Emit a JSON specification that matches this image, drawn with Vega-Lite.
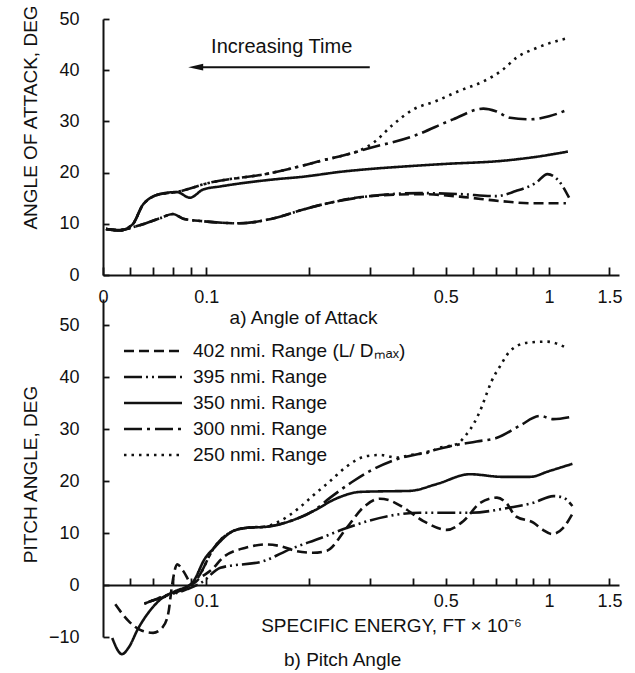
{
  "$schema": "https://vega.github.io/schema/vega-lite/v6.json",
  "background": "white",
  "padding": {"left": 20, "top": 4, "right": 5, "bottom": 2},
  "config": {
    "view": {"stroke": null},
    "font": "Liberation Sans",
    "axis": {
      "domainColor": "#111", "domainWidth": 2, "tickColor": "#111", "tickWidth": 1.8,
      "labelColor": "#111", "titleColor": "#111", "labelFontSize": 18, "titleFontSize": 19,
      "titleFontWeight": "normal", "grid": false, "labelFont": "Liberation Sans", "titleFont": "Liberation Sans",
      "labelOverlap": false, "labelFlush": false
    },
    "title": {"font": "Liberation Sans", "fontSize": 19, "fontWeight": "normal", "color": "#111"}
  },
  "datasets": {
    "aoa": [
      {"range": "350", "energy": 0.051, "angle": 9.0}, {"range": "350", "energy": 0.056, "angle": 8.7},
      {"range": "350", "energy": 0.061, "angle": 9.9}, {"range": "350", "energy": 0.0655, "angle": 13.8},
      {"range": "350", "energy": 0.0733, "angle": 15.8}, {"range": "350", "energy": 0.082, "angle": 16.2},
      {"range": "350", "energy": 0.0897, "angle": 15.1}, {"range": "350", "energy": 0.098, "angle": 16.7},
      {"range": "350", "energy": 0.11, "angle": 17.3}, {"range": "350", "energy": 0.154, "angle": 18.6},
      {"range": "350", "energy": 0.192, "angle": 19.2}, {"range": "350", "energy": 0.25, "angle": 20.2},
      {"range": "350", "energy": 0.3, "angle": 20.7}, {"range": "350", "energy": 0.4, "angle": 21.3},
      {"range": "350", "energy": 0.5, "angle": 21.7}, {"range": "350", "energy": 0.73, "angle": 22.3},
      {"range": "350", "energy": 0.9, "angle": 23.0}, {"range": "350", "energy": 1.135, "angle": 24.1},

      {"range": "300", "energy": 0.051, "angle": 9.0}, {"range": "300", "energy": 0.056, "angle": 8.7},
      {"range": "300", "energy": 0.061, "angle": 9.9}, {"range": "300", "energy": 0.0655, "angle": 13.8},
      {"range": "300", "energy": 0.0733, "angle": 15.8}, {"range": "300", "energy": 0.082, "angle": 16.2},
      {"range": "300", "energy": 0.0876, "angle": 16.7}, {"range": "300", "energy": 0.098, "angle": 17.7},
      {"range": "300", "energy": 0.154, "angle": 19.9}, {"range": "300", "energy": 0.192, "angle": 21.4},
      {"range": "300", "energy": 0.219, "angle": 22.4}, {"range": "300", "energy": 0.246, "angle": 23.2},
      {"range": "300", "energy": 0.3, "angle": 24.8}, {"range": "300", "energy": 0.401, "angle": 27.1},
      {"range": "300", "energy": 0.525, "angle": 30.4}, {"range": "300", "energy": 0.643, "angle": 32.5},
      {"range": "300", "energy": 0.7, "angle": 32.0}, {"range": "300", "energy": 0.77, "angle": 30.7},
      {"range": "300", "energy": 0.88, "angle": 30.4}, {"range": "300", "energy": 1.0, "angle": 31.0},
      {"range": "300", "energy": 1.135, "angle": 32.3},

      {"range": "250", "energy": 0.051, "angle": 9.0}, {"range": "250", "energy": 0.056, "angle": 8.7},
      {"range": "250", "energy": 0.061, "angle": 9.9}, {"range": "250", "energy": 0.0655, "angle": 13.8},
      {"range": "250", "energy": 0.0733, "angle": 15.8}, {"range": "250", "energy": 0.082, "angle": 16.2},
      {"range": "250", "energy": 0.0876, "angle": 16.7}, {"range": "250", "energy": 0.098, "angle": 17.7},
      {"range": "250", "energy": 0.154, "angle": 19.9}, {"range": "250", "energy": 0.192, "angle": 21.4},
      {"range": "250", "energy": 0.219, "angle": 22.4}, {"range": "250", "energy": 0.246, "angle": 23.2},
      {"range": "250", "energy": 0.28, "angle": 24.3}, {"range": "250", "energy": 0.307, "angle": 25.8},
      {"range": "250", "energy": 0.351, "angle": 29.4}, {"range": "250", "energy": 0.401, "angle": 32.3},
      {"range": "250", "energy": 0.469, "angle": 34.0}, {"range": "250", "energy": 0.549, "angle": 36.0},
      {"range": "250", "energy": 0.643, "angle": 37.8}, {"range": "250", "energy": 0.733, "angle": 40.1},
      {"range": "250", "energy": 0.802, "angle": 42.4}, {"range": "250", "energy": 0.916, "angle": 44.3},
      {"range": "250", "energy": 1.135, "angle": 46.3},

      {"range": "402", "energy": 0.051, "angle": 9.0}, {"range": "402", "energy": 0.056, "angle": 8.8},
      {"range": "402", "energy": 0.0625, "angle": 9.5}, {"range": "402", "energy": 0.0734, "angle": 11.1},
      {"range": "402", "energy": 0.08, "angle": 11.9}, {"range": "402", "energy": 0.0857, "angle": 11.0},
      {"range": "402", "energy": 0.098, "angle": 10.5}, {"range": "402", "energy": 0.125, "angle": 10.1},
      {"range": "402", "energy": 0.16, "angle": 11.2}, {"range": "402", "energy": 0.192, "angle": 12.8},
      {"range": "402", "energy": 0.219, "angle": 13.8}, {"range": "402", "energy": 0.3, "angle": 15.4},
      {"range": "402", "energy": 0.42, "angle": 15.8}, {"range": "402", "energy": 0.55, "angle": 15.3},
      {"range": "402", "energy": 0.73, "angle": 14.4}, {"range": "402", "energy": 0.9, "angle": 14.0},
      {"range": "402", "energy": 1.12, "angle": 14.0},

      {"range": "395", "energy": 0.051, "angle": 9.0}, {"range": "395", "energy": 0.056, "angle": 8.8},
      {"range": "395", "energy": 0.0625, "angle": 9.5}, {"range": "395", "energy": 0.0734, "angle": 11.1},
      {"range": "395", "energy": 0.08, "angle": 11.9}, {"range": "395", "energy": 0.0857, "angle": 11.0},
      {"range": "395", "energy": 0.098, "angle": 10.5}, {"range": "395", "energy": 0.125, "angle": 10.1},
      {"range": "395", "energy": 0.16, "angle": 11.2}, {"range": "395", "energy": 0.192, "angle": 12.8},
      {"range": "395", "energy": 0.219, "angle": 13.8}, {"range": "395", "energy": 0.3, "angle": 15.4},
      {"range": "395", "energy": 0.42, "angle": 16.0}, {"range": "395", "energy": 0.55, "angle": 15.8},
      {"range": "395", "energy": 0.7, "angle": 15.4}, {"range": "395", "energy": 0.8, "angle": 16.4},
      {"range": "395", "energy": 0.916, "angle": 18.0}, {"range": "395", "energy": 0.99, "angle": 19.7},
      {"range": "395", "energy": 1.07, "angle": 18.3}, {"range": "395", "energy": 1.144, "angle": 15.1}
    ],
    "pitch": [
      {"range": "350", "energy": 0.0532, "angle": -10.2}, {"range": "350", "energy": 0.0568, "angle": -13.3},
      {"range": "350", "energy": 0.0593, "angle": -12.1}, {"range": "350", "energy": 0.0634, "angle": -8.3},
      {"range": "350", "energy": 0.0696, "angle": -4.4}, {"range": "350", "energy": 0.0744, "angle": -2.5},
      {"range": "350", "energy": 0.0812, "angle": -1.2}, {"range": "350", "energy": 0.091, "angle": 0.4},
      {"range": "350", "energy": 0.0994, "angle": 5.2}, {"range": "350", "energy": 0.105, "angle": 7.0},
      {"range": "350", "energy": 0.12, "angle": 10.4}, {"range": "350", "energy": 0.1317, "angle": 11.0},
      {"range": "350", "energy": 0.15, "angle": 11.2}, {"range": "350", "energy": 0.176, "angle": 12.3},
      {"range": "350", "energy": 0.205, "angle": 14.2}, {"range": "350", "energy": 0.241, "angle": 16.7},
      {"range": "350", "energy": 0.281, "angle": 17.9}, {"range": "350", "energy": 0.32, "angle": 18.0},
      {"range": "350", "energy": 0.393, "angle": 18.1}, {"range": "350", "energy": 0.47, "angle": 19.4},
      {"range": "350", "energy": 0.588, "angle": 21.3}, {"range": "350", "energy": 0.73, "angle": 20.8},
      {"range": "350", "energy": 0.88, "angle": 20.8}, {"range": "350", "energy": 1.0, "angle": 21.9},
      {"range": "350", "energy": 1.17, "angle": 23.3},

      {"range": "300", "energy": 0.066, "angle": -3.6}, {"range": "300", "energy": 0.075, "angle": -2.2},
      {"range": "300", "energy": 0.085, "angle": -0.9}, {"range": "300", "energy": 0.095, "angle": 1.6},
      {"range": "300", "energy": 0.105, "angle": 7.0}, {"range": "300", "energy": 0.12, "angle": 10.4},
      {"range": "300", "energy": 0.1317, "angle": 11.0}, {"range": "300", "energy": 0.15, "angle": 11.2},
      {"range": "300", "energy": 0.176, "angle": 12.3}, {"range": "300", "energy": 0.205, "angle": 14.2},
      {"range": "300", "energy": 0.23, "angle": 16.8}, {"range": "300", "energy": 0.269, "angle": 20.0},
      {"range": "300", "energy": 0.3, "angle": 21.9}, {"range": "300", "energy": 0.36, "angle": 24.2},
      {"range": "300", "energy": 0.43, "angle": 25.4}, {"range": "300", "energy": 0.515, "angle": 26.7},
      {"range": "300", "energy": 0.615, "angle": 27.6}, {"range": "300", "energy": 0.705, "angle": 28.3},
      {"range": "300", "energy": 0.82, "angle": 30.6}, {"range": "300", "energy": 0.94, "angle": 32.5},
      {"range": "300", "energy": 1.03, "angle": 31.9}, {"range": "300", "energy": 1.15, "angle": 32.3},

      {"range": "250", "energy": 0.066, "angle": -3.6}, {"range": "250", "energy": 0.075, "angle": -2.2},
      {"range": "250", "energy": 0.085, "angle": -0.9}, {"range": "250", "energy": 0.095, "angle": 1.6},
      {"range": "250", "energy": 0.105, "angle": 7.0}, {"range": "250", "energy": 0.12, "angle": 10.4},
      {"range": "250", "energy": 0.1317, "angle": 11.0}, {"range": "250", "energy": 0.15, "angle": 11.3},
      {"range": "250", "energy": 0.164, "angle": 12.3}, {"range": "250", "energy": 0.188, "angle": 15.0},
      {"range": "250", "energy": 0.205, "angle": 17.2}, {"range": "250", "energy": 0.23, "angle": 20.0},
      {"range": "250", "energy": 0.257, "angle": 22.8}, {"range": "250", "energy": 0.294, "angle": 24.8},
      {"range": "250", "energy": 0.322, "angle": 25.0}, {"range": "250", "energy": 0.36, "angle": 24.5},
      {"range": "250", "energy": 0.402, "angle": 25.1}, {"range": "250", "energy": 0.44, "angle": 25.4},
      {"range": "250", "energy": 0.48, "angle": 26.4}, {"range": "250", "energy": 0.538, "angle": 27.1},
      {"range": "250", "energy": 0.575, "angle": 29.0}, {"range": "250", "energy": 0.602, "angle": 30.9},
      {"range": "250", "energy": 0.635, "angle": 34.1}, {"range": "250", "energy": 0.657, "angle": 36.7},
      {"range": "250", "energy": 0.68, "angle": 39.2}, {"range": "250", "energy": 0.72, "angle": 42.1},
      {"range": "250", "energy": 0.77, "angle": 45.0}, {"range": "250", "energy": 0.865, "angle": 46.6},
      {"range": "250", "energy": 0.985, "angle": 46.8}, {"range": "250", "energy": 1.14, "angle": 45.4},

      {"range": "402", "energy": 0.0543, "angle": -3.7}, {"range": "402", "energy": 0.0593, "angle": -6.9},
      {"range": "402", "energy": 0.065, "angle": -8.8}, {"range": "402", "energy": 0.07, "angle": -9.2},
      {"range": "402", "energy": 0.0745, "angle": -8.2}, {"range": "402", "energy": 0.0775, "angle": -5.5},
      {"range": "402", "energy": 0.0796, "angle": 0.2}, {"range": "402", "energy": 0.0823, "angle": 4.0},
      {"range": "402", "energy": 0.0857, "angle": 2.7}, {"range": "402", "energy": 0.091, "angle": 0.2},
      {"range": "402", "energy": 0.096, "angle": 1.4}, {"range": "402", "energy": 0.104, "angle": 3.0},
      {"range": "402", "energy": 0.112, "angle": 5.3}, {"range": "402", "energy": 0.131, "angle": 7.2},
      {"range": "402", "energy": 0.15, "angle": 7.8}, {"range": "402", "energy": 0.164, "angle": 7.5},
      {"range": "402", "energy": 0.184, "angle": 6.5}, {"range": "402", "energy": 0.205, "angle": 6.2},
      {"range": "402", "energy": 0.225, "angle": 6.6}, {"range": "402", "energy": 0.257, "angle": 11.0},
      {"range": "402", "energy": 0.287, "angle": 14.9}, {"range": "402", "energy": 0.321, "angle": 16.6},
      {"range": "402", "energy": 0.345, "angle": 16.2}, {"range": "402", "energy": 0.376, "angle": 14.9},
      {"range": "402", "energy": 0.43, "angle": 12.3}, {"range": "402", "energy": 0.503, "angle": 10.6},
      {"range": "402", "energy": 0.563, "angle": 12.3}, {"range": "402", "energy": 0.63, "angle": 15.8},
      {"range": "402", "energy": 0.705, "angle": 16.8}, {"range": "402", "energy": 0.75, "angle": 15.8},
      {"range": "402", "energy": 0.8, "angle": 13.2}, {"range": "402", "energy": 0.9, "angle": 12.0},
      {"range": "402", "energy": 0.96, "angle": 10.6}, {"range": "402", "energy": 1.02, "angle": 9.8},
      {"range": "402", "energy": 1.1, "angle": 11.0}, {"range": "402", "energy": 1.17, "angle": 13.7},

      {"range": "395", "energy": 0.068, "angle": -3.2}, {"range": "395", "energy": 0.078, "angle": -2.0},
      {"range": "395", "energy": 0.088, "angle": -0.8}, {"range": "395", "energy": 0.097, "angle": 0.5},
      {"range": "395", "energy": 0.11, "angle": 3.3}, {"range": "395", "energy": 0.147, "angle": 4.6},
      {"range": "395", "energy": 0.176, "angle": 6.9}, {"range": "395", "energy": 0.215, "angle": 9.0},
      {"range": "395", "energy": 0.258, "angle": 11.0}, {"range": "395", "energy": 0.3, "angle": 12.4},
      {"range": "395", "energy": 0.42, "angle": 13.9}, {"range": "395", "energy": 0.588, "angle": 13.9},
      {"range": "395", "energy": 0.77, "angle": 14.9}, {"range": "395", "energy": 0.9, "angle": 15.8},
      {"range": "395", "energy": 1.03, "angle": 17.1}, {"range": "395", "energy": 1.1, "angle": 16.8},
      {"range": "395", "energy": 1.17, "angle": 15.2}
    ],
    "arrow": [{"energy": 0.0932, "energy2": 0.3, "angle": 40.6}],
    "note": [{"label": "Increasing Time", "energy": 0.166, "angle": 44.6}]
  },
  "spacing": 24,
  "bounds": "flush",
  "resolve": {"scale": {"strokeDash": "independent"}, "legend": {"strokeDash": "independent"}},
  "vconcat": [
    {
      "width": 516,
      "height": 256,
      "layer": [
        {
          "data": {"name": "aoa"},
          "mark": {"type": "line", "strokeWidth": 2.6, "color": "#111", "interpolate": "monotone"},
          "encoding": {
            "x": {
              "field": "energy", "type": "quantitative",
              "scale": {"type": "log", "domain": [0.05, 1.6], "nice": false},
              "axis": {
                "values": [0.05, 0.06, 0.07, 0.08, 0.09, 0.1, 0.2, 0.3, 0.4, 0.5, 0.6, 0.7, 0.8, 0.9, 1, 1.5],
                "format": ".2~f",
                "labelExpr": "datum.value < 0.055 ? '0' : ((datum.value == 0.1 || datum.value == 0.5 || datum.value == 1 || datum.value == 1.5) ? datum.label : '')",
                "tickSize": -8, "labelPadding": 21,
                "title": "a) Angle of Attack", "titleX": 200, "titleY": 42, "titleBaseline": "middle", "titleAlign": "center"
              }
            },
            "y": {
              "field": "angle", "type": "quantitative",
              "scale": {"domain": [0, 50], "nice": false},
              "axis": {
                "values": [0, 10, 20, 30, 40, 50], "tickSize": -6, "labelPadding": 30,
                "title": "ANGLE OF ATTACK, DEG", "titleX": -73, "titleY": 98, "titleBaseline": "middle", "titleAlign": "center"
              }
            },
            "strokeDash": {
              "field": "range", "type": "nominal",
              "scale": {"domain": ["402", "395", "350", "300", "250"], "range": [[10, 5], [18, 4, 2, 4, 2, 4], [1, 0], [18, 5, 3, 5], [2.5, 5]]},
              "legend": null
            }
          }
        },
        {
          "data": {"name": "arrow"},
          "mark": {"type": "rule", "strokeWidth": 2, "color": "#111"},
          "encoding": {
            "x": {"field": "energy", "type": "quantitative"},
            "x2": {"field": "energy2"},
            "y": {"field": "angle", "type": "quantitative"}
          }
        },
        {
          "data": {"name": "arrow"},
          "mark": {"type": "point", "shape": "M-1,0L1,-0.45L1,0.45Z", "filled": true, "size": 225, "color": "#111", "opacity": 1},
          "encoding": {
            "x": {"field": "energy", "type": "quantitative"},
            "y": {"field": "angle", "type": "quantitative"}
          }
        },
        {
          "data": {"name": "note"},
          "mark": {"type": "text", "fontSize": 20, "font": "Liberation Sans", "color": "#111", "baseline": "middle"},
          "encoding": {
            "x": {"field": "energy", "type": "quantitative"},
            "y": {"field": "angle", "type": "quantitative"},
            "text": {"field": "label"}
          }
        }
      ]
    },
    {
      "width": 516,
      "height": 338,
      "title": {"text": "b) Pitch Angle", "orient": "bottom", "anchor": "start", "frame": "group", "dx": 181, "offset": -8},
      "data": {"name": "pitch"},
      "mark": {"type": "line", "strokeWidth": 2.6, "color": "#111", "interpolate": "monotone"},
      "encoding": {
        "x": {
          "field": "energy", "type": "quantitative",
          "scale": {"type": "log", "domain": [0.05, 1.6], "nice": false},
          "axis": {
            "values": [0.06, 0.07, 0.08, 0.09, 0.1, 0.2, 0.3, 0.4, 0.5, 0.6, 0.7, 0.8, 0.9, 1, 1.5],
            "format": ".2~f",
            "labelExpr": "(datum.value == 0.1 || datum.value == 0.5 || datum.value == 1 || datum.value == 1.5) ? datum.label : ''",
            "offset": -52, "tickSize": -7, "labelPadding": 14,
            "title": "SPECIFIC ENERGY, FT × 10⁻⁶", "titleX": 288, "titleY": 40, "titleBaseline": "middle", "titleAlign": "center"
          }
        },
        "y": {
          "field": "angle", "type": "quantitative",
          "scale": {"domain": [-10, 55], "nice": false},
          "axis": {
            "values": [-10, 0, 10, 20, 30, 40, 50], "tickSize": -6, "labelPadding": 30,
            "title": "PITCH ANGLE, DEG", "titleX": -73, "titleY": 175, "titleBaseline": "middle", "titleAlign": "center"
          }
        },
        "strokeDash": {
          "field": "range", "type": "nominal",
          "scale": {"domain": ["402", "395", "350", "300", "250"], "range": [[10, 5], [18, 4, 2, 4, 2, 4], [1, 0], [18, 5, 3, 5], [2.5, 5]]},
          "legend": {
            "orient": "none", "legendX": 39, "legendY": 41, "title": null,
            "symbolType": "M-3,0H3", "symbolSize": 374, "symbolStrokeWidth": 2.4, "symbolStrokeColor": "#111", "symbolFillColor": "transparent",
            "labelFontSize": 19, "labelFont": "Liberation Sans", "labelColor": "#111", "labelOffset": 29,
            "rowPadding": 5, "padding": 0, "labelLimit": 400,
            "labelExpr": "datum.label == '402' ? '402 nmi. Range (L/ Dₘₐₓ)' : datum.label + ' nmi. Range'"
          }
        }
      }
    }
  ]
}
